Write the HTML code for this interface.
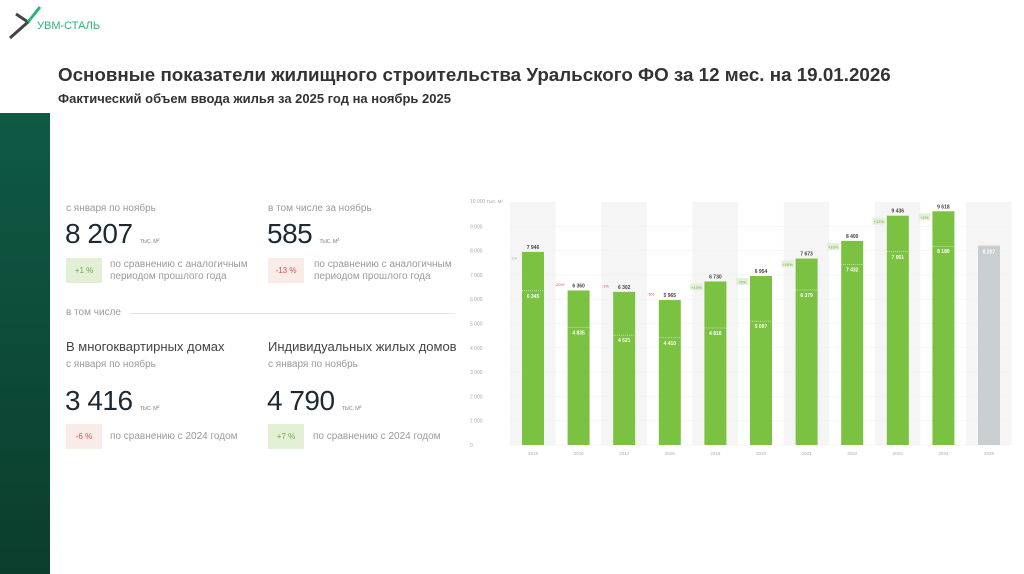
<!DOCTYPE html>
<html><head><meta charset="utf-8">
<style>
body{margin:0;width:1024px;height:574px;overflow:hidden;background:#fff;font-family:"Liberation Sans",sans-serif;position:relative}
.a{position:absolute;white-space:nowrap}
.g{color:#9a9a9a;font-size:10px}
.big{color:#1d2a33;font-size:28px;letter-spacing:-0.5px}
.u{color:#9a9a9a;font-size:7px}
.b{position:absolute;width:36px;height:25px;font-size:8px;text-align:center;line-height:25px}
.bp{background:#e3f0d6;color:#6aa84f}.bn{background:#f8ebe8;color:#d9534f}
</style></head><body>
<div class="a" style="left:0;top:113px;width:50px;height:461px;background:linear-gradient(#0f5a45,#0b3d2c)"></div>
<svg class="a" style="left:0;top:0" width="120" height="45"><path d="M16 14 L28 22 L10 38" stroke="#444" stroke-width="3" fill="none"/><path d="M28 22 L40 7" stroke="#2bb673" stroke-width="3" fill="none"/><text x="37" y="29" font-size="11" fill="#2bb673" font-family="Liberation Sans">УВМ-СТАЛЬ</text></svg>
<div class="a" style="left:58px;top:64px;font-size:18.8px;font-weight:bold;color:#333">Основные показатели жилищного строительства Уральского ФО за 12 мес. на 19.01.2026</div>
<div class="a" style="left:58px;top:91px;font-size:13px;font-weight:bold;color:#333">Фактический объем ввода жилья за 2025 год на ноябрь 2025</div>

<div class="a g" style="left:66px;top:203px">с января по ноябрь</div>
<div class="a big" style="left:65px;top:218px">8 207 <span class="u">тыс. м²</span></div>
<div class="b bp" style="left:66px;top:258px">+1 %</div>
<div class="a g" style="left:110px;top:259px;line-height:12px">по сравнению с аналогичным<br>периодом прошлого года</div>

<div class="a g" style="left:268px;top:203px">в том числе за ноябрь</div>
<div class="a big" style="left:267px;top:218px">585 <span class="u">тыс. м²</span></div>
<div class="b bn" style="left:268px;top:258px">-13 %</div>
<div class="a g" style="left:314px;top:259px;line-height:12px">по сравнению с аналогичным<br>периодом прошлого года</div>

<div class="a g" style="left:66px;top:307px">в том числе</div>
<div class="a" style="left:130px;top:313px;width:325px;height:1px;background:#e5e5e5"></div>

<div class="a" style="left:66px;top:339px;font-size:13px;color:#444">В многоквартирных домах</div>
<div class="a g" style="left:66px;top:359px">с января по ноябрь</div>
<div class="a big" style="left:65px;top:385px">3 416 <span class="u">тыс. м²</span></div>
<div class="b bn" style="left:66px;top:424px">-6 %</div>
<div class="a g" style="left:110px;top:431px">по сравнению с 2024 годом</div>

<div class="a" style="left:268px;top:339px;font-size:13px;color:#444">Индивидуальных жилых домов</div>
<div class="a g" style="left:268px;top:359px">с января по ноябрь</div>
<div class="a big" style="left:267px;top:385px">4 790 <span class="u">тыс. м²</span></div>
<div class="b bp" style="left:268px;top:424px">+7 %</div>
<div class="a g" style="left:313px;top:431px">по сравнению с 2024 годом</div>

<svg id="ch" class="a" style="left:0;top:0" width="1024" height="574"></svg>
<script>
const years=["2015","2016","2017","2018","2019","2020","2021","2022","2023","2024","2025"];
const totals=[7946,6360,6302,5965,6730,6954,7673,8400,9436,9618,8207];
const inner=[6345,4835,4521,4410,4816,5097,6379,7432,7951,8180,null];
const pcts=["1%","-20%","-1%","-5%","+13%","+3%","+10%","+10%","+12%","+2%",null];
const ticks=[0,1000,2000,3000,4000,5000,6000,7000,8000,9000];
const ns="http://www.w3.org/2000/svg",svg=document.getElementById('ch');
const y=v=>445-v*0.0243, x=i=>533+i*45.6;
function mk(t,a,txt){const e=document.createElementNS(ns,t);for(const k in a)e.setAttribute(k,a[k]);if(txt!=null)e.textContent=txt;svg.appendChild(e);return e;}
years.forEach((yr,i)=>{if(i%2==0){const e=mk('rect',{x:x(i)-23,y:202,width:45.6,height:243,fill:'#f5f5f5'});

}});
ticks.forEach(t=>{const l=mk('line',{x1:510,x2:1010,y1:y(t),y2:y(t),stroke:'#eee','stroke-width':0.5});


const e=mk('text',{x:470,y:y(t)+2,'font-size':5,fill:'#aaa'},t==0?'0':(t/1000)+' 000');

});
const tt=mk('text',{x:470,y:203,'font-size':5,fill:'#aaa'},'10 000 тыс. м²');


years.forEach((yr,i)=>{const last=i==years.length-1;
const r=mk('rect',{x:x(i)-11,y:y(totals[i]),width:22,height:445-y(totals[i]),fill:last?'#c9cfd1':'#7cc242'});


const s=totals[i].toLocaleString('ru-RU').replace(/\s/g,' ');
if(!last){const v=mk('text',{x:x(i),y:y(totals[i])-3,'font-size':5,'font-weight':'bold',fill:'#444','text-anchor':'middle'},s);

}
else{const v=mk('text',{x:x(i),y:y(totals[i])+8,'font-size':5,'font-weight':'bold',fill:'#fff','text-anchor':'middle'},s);

}
if(inner[i]!=null){const d=mk('line',{x1:x(i)-11,x2:x(i)+11,y1:y(inner[i]),y2:y(inner[i]),stroke:'#fff','stroke-dasharray':'1,1','stroke-width':0.5});


const t=mk('text',{x:x(i),y:y(inner[i])+7,'font-size':5,'font-weight':'bold',fill:'#fff','text-anchor':'middle'},inner[i].toLocaleString('ru-RU').replace(/\s/g,' '));

}
if(pcts[i]){const neg=pcts[i][0]=='-',py=y(totals[i])+(neg?-6:6);
const b=mk('rect',{x:x(i)-25,y:py-4,width:12,height:7,fill:(neg||i==0)?'none':'#e3f0d6'});


const p=mk('text',{x:x(i)-19,y:py+1.5,'font-size':4,fill:neg?'#e04b3c':(i==0?'#aaa':'#6aa84f'),'text-anchor':'middle'},pcts[i]);

}
const yl=mk('text',{x:x(i),y:455,'font-size':4.5,fill:'#aaa','text-anchor':'middle'},yr);

});
</script>
</body></html>
